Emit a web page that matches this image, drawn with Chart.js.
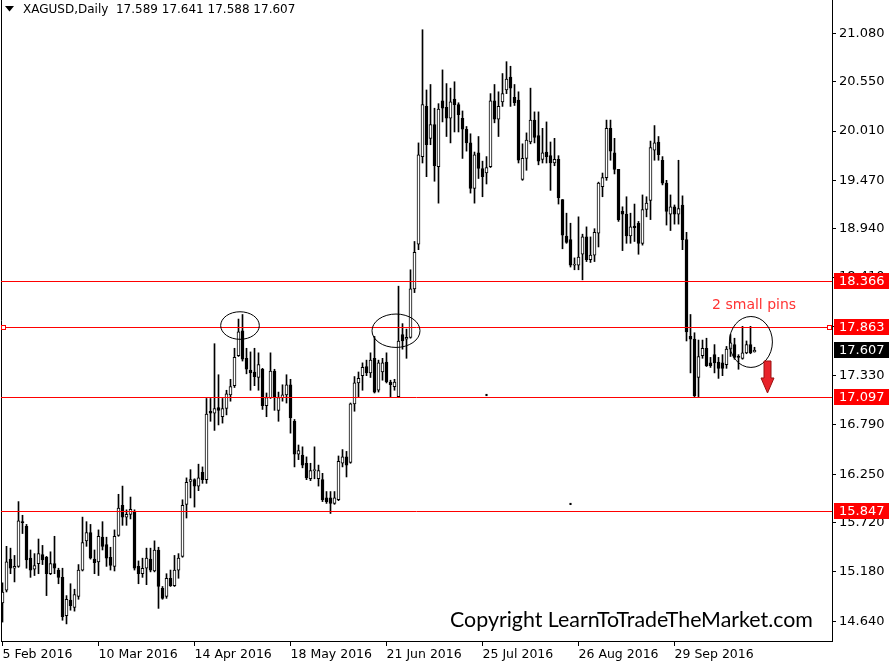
<!DOCTYPE html>
<html><head><meta charset="utf-8">
<script src="https://cdn.jsdelivr.net/npm/chart.js@4/dist/chart.umd.min.js"></script>
<style>html,body{margin:0;padding:0;background:#fff;}canvas{display:block;}</style>
</head><body>
<canvas id="c" width="894" height="666"></canvas>
<script>
const symbol = 'XAGUSD';
const period = 'Daily';
const open = [14.84,14.98,15.32,15.22,15.24,15.73,15.68,15.33,15.21,15.27,15.37,15.34,15.16,15.27,15.20,15.12,14.70,14.87,14.79,14.91,
15.20,15.52,15.61,15.32,15.29,15.56,15.48,15.34,15.24,15.58,15.91,15.78,15.81,15.84,15.24,15.16,15.22,15.32,15.19,15.42,
15.00,14.91,15.11,15.03,15.20,15.35,15.92,16.17,16.19,16.12,16.27,16.19,16.94,16.92,16.98,16.88,16.97,17.12,17.22,17.55,
17.82,17.52,17.39,17.37,17.31,17.40,17.00,17.09,17.38,16.95,17.09,17.12,17.23,16.83,16.47,16.46,16.37,16.20,16.29,16.20,
16.19,15.99,15.99,15.93,15.97,16.37,16.44,16.38,17.02,17.25,17.33,17.43,17.36,17.52,17.17,17.37,17.48,17.26,17.21,17.10,
17.78,17.73,17.75,18.28,18.77,19.73,20.28,19.93,20.08,19.62,20.34,20.27,20.15,20.36,20.30,20.15,20.03,19.88,19.38,19.77,
19.60,19.55,19.62,20.34,20.14,20.33,20.46,20.60,20.38,20.35,19.48,19.71,19.89,20.13,19.96,19.70,19.78,19.74,19.66,19.70,
19.26,18.86,18.82,18.54,18.54,18.66,18.85,18.60,18.65,18.89,19.40,19.50,20.04,19.77,19.59,19.13,19.10,18.86,18.97,19.00,
18.78,19.15,19.25,19.80,19.89,19.69,19.44,19.10,19.18,19.10,19.20,18.82,17.76,17.73,17.31,17.55,17.63,17.47,17.56,17.48,
17.47,17.45,17.62,17.67,17.54,17.52,17.58,17.67,17.589];
const high = [15.06,15.46,15.44,15.36,15.95,15.80,15.70,15.42,15.38,15.54,15.47,15.35,15.40,15.57,15.22,15.22,14.92,15.05,14.99,15.26,
15.78,15.73,15.70,15.42,15.64,15.73,15.56,15.45,15.64,16.03,16.12,15.86,16.00,15.86,15.30,15.33,15.44,15.44,15.52,15.45,
15.02,15.16,15.20,15.36,15.38,15.97,16.21,16.30,16.20,16.36,16.33,17.08,17.08,17.68,17.34,17.08,17.17,17.29,17.63,17.95,
18.00,17.63,17.59,17.63,17.58,17.41,17.14,17.58,17.40,17.15,17.23,17.34,17.29,16.85,16.57,16.55,16.44,16.37,16.55,16.35,
16.26,16.06,16.06,16.06,16.45,16.52,16.50,17.03,17.32,17.37,17.47,17.50,17.58,17.76,17.50,17.52,17.58,17.28,17.29,18.31,
17.90,17.84,18.49,18.80,19.88,21.12,20.46,20.52,20.26,20.31,20.68,20.53,20.48,20.55,20.32,20.23,20.06,19.98,19.78,19.95,
19.68,19.73,20.42,20.52,20.44,20.64,20.77,20.72,20.52,20.44,19.87,19.99,20.48,20.22,20.22,20.04,20.11,19.89,19.93,19.74,
19.26,19.11,19.00,18.62,19.07,18.88,18.96,18.85,18.94,19.45,19.55,20.13,20.13,19.93,19.59,19.18,19.29,19.11,19.21,19.02,
19.31,19.29,19.90,20.07,19.95,19.73,19.47,19.31,19.20,19.69,19.30,18.90,18.00,17.80,17.72,17.72,17.74,17.53,17.67,17.53,
17.56,17.65,17.78,17.74,17.56,17.87,17.71,17.87,17.641];
const low = [14.63,14.96,15.16,15.07,15.23,15.60,15.22,15.12,15.14,15.16,15.26,14.92,15.15,15.16,15.05,14.65,14.61,14.76,14.75,14.88,
15.19,15.46,15.32,15.16,15.14,15.42,15.24,15.20,15.19,15.57,15.69,15.69,15.76,15.20,15.05,15.12,15.04,15.18,15.18,14.78,
14.88,14.89,15.02,15.02,15.11,15.34,15.77,15.99,15.89,16.07,16.15,16.15,16.83,16.73,16.79,16.81,16.90,17.05,17.20,17.54,
17.49,17.35,17.17,17.22,17.17,16.96,16.88,17.08,16.95,16.83,17.05,17.03,16.70,16.33,16.41,16.32,16.19,16.18,16.20,16.12,
15.95,15.93,15.82,15.92,15.96,16.33,16.22,16.37,16.94,17.10,17.17,17.33,17.31,17.14,17.15,17.28,17.25,17.10,17.17,17.10,
17.62,17.52,17.74,18.24,18.71,19.66,19.51,19.86,19.46,19.22,20.11,19.95,19.88,20.00,20.00,19.71,19.79,19.33,19.22,19.49,
19.29,19.43,19.61,20.10,19.95,20.28,20.42,20.28,20.29,19.66,19.47,19.58,19.87,19.88,19.64,19.66,19.66,19.36,19.63,19.21,
18.72,18.78,18.52,18.49,18.49,18.38,18.58,18.57,18.58,18.74,19.29,19.47,19.69,19.54,19.02,18.70,18.78,18.78,18.80,18.66,
18.76,19.07,19.04,19.69,19.69,19.42,18.98,18.92,18.99,18.99,18.71,17.71,17.36,17.10,17.10,17.52,17.43,17.42,17.36,17.30,
17.33,17.41,17.54,17.51,17.40,17.51,17.57,17.57,17.588];
const close = [14.96,15.29,15.22,15.24,15.74,15.72,15.31,15.20,15.25,15.38,15.31,15.16,15.27,15.22,15.12,14.69,14.88,14.81,14.93,15.20,
15.50,15.61,15.33,15.28,15.57,15.46,15.33,15.25,15.57,15.88,15.78,15.81,15.865,15.22,15.16,15.22,15.33,15.20,15.42,15.02,
14.89,15.11,15.03,15.20,15.33,15.91,16.16,16.19,16.12,16.21,16.19,16.91,16.92,16.97,16.95,16.97,17.13,17.21,17.53,17.81,
17.51,17.40,17.36,17.32,17.45,17.00,17.09,17.38,17.09,17.09,17.12,17.23,16.87,16.47,16.51,16.35,16.21,16.29,16.30,16.29,
15.97,15.95,15.93,15.99,16.39,16.44,16.35,17.02,17.25,17.30,17.42,17.36,17.50,17.15,17.47,17.47,17.26,17.23,17.26,17.71,
17.71,17.75,18.28,18.68,19.75,20.30,19.86,20.08,19.63,20.25,20.26,20.15,20.33,20.30,20.19,20.03,19.88,19.38,19.75,19.60,
19.51,19.61,20.34,20.14,20.28,20.42,20.58,20.48,20.32,19.69,19.71,19.91,20.13,19.94,19.68,19.77,19.73,19.66,19.70,19.28,
18.87,18.79,18.54,18.55,18.63,18.85,18.60,18.65,18.90,19.44,19.50,20.04,19.79,19.59,19.04,19.10,18.86,18.96,18.95,18.78,
19.15,19.22,19.83,19.88,19.75,19.44,19.13,19.18,19.10,19.16,18.82,17.81,17.73,17.11,17.54,17.63,17.44,17.44,17.47,17.41,
17.41,17.62,17.69,17.53,17.53,17.58,17.67,17.58,17.607];
const dateTickIndex = [0,24,48,72,96,120,144,168];
const dateTickLabels = ['5 Feb 2016','10 Mar 2016','14 Apr 2016','18 May 2016','21 Jun 2016','25 Jul 2016','26 Aug 2016','29 Sep 2016'];
const priceTicks = [14.640,15.180,15.720,16.250,16.790,17.330,17.870,18.410,18.940,19.470,20.010,20.550,21.080];
const levelPrices = [18.366,17.863,17.097,15.847];
const selectedLevel = 17.863;
const dotIndex = [121,142];
const dotPrice = [17.118,15.924];
const noteText = '2 small pins';
const copyrightText = 'Copyright LearnToTradeTheMarket.com';

const bodies = open.map((o,i)=>({x:i, y:[o, close[i]]}));
const wicks = open.map((o,i)=>({x:i, y:[low[i], high[i]]}));
const dots = dotIndex.map((v,i)=>({x:v, y:dotPrice[i]}));

// annotation geometry (data coordinates)
const ellipses = [
  {i:59.375, p:17.879, rx:4.83, ry:0.151},
  {i:98.375, p:17.822, rx:6.0, ry:0.183},
  {i:187.1, p:17.699, rx:5.375, ry:0.279}
];
const noteAnchor = {i:177.4, p:18.060};
const arrowAnchor = {i:191.25, top:17.4905, tip:17.140};

const RED = '#ff0000';
const overlay = {
  id:'overlay',
  afterDraw(chart){
    const {ctx, chartArea:a, scales:{x, y}} = chart;
    ctx.save();
    ctx.strokeStyle = '#000'; ctx.lineWidth = 1;
    ctx.beginPath(); ctx.moveTo(a.left+0.5, a.top); ctx.lineTo(a.left+0.5, a.bottom); ctx.stroke();
    ctx.strokeStyle = RED;
    levelPrices.forEach(p=>{
      const py = Math.round(y.getPixelForValue(p))+0.5;
      ctx.beginPath(); ctx.moveTo(a.left, py); ctx.lineTo(a.right, py); ctx.stroke();
    });
    const sy = Math.round(y.getPixelForValue(selectedLevel));
    ctx.fillStyle='#fff';
    [a.left+0.5, a.right-4.5].forEach(sx=>{ ctx.fillRect(sx, sy-2, 4, 4); ctx.strokeRect(sx, sy-2+0.5, 4, 4); });
    ctx.strokeStyle = '#000';
    ellipses.forEach(e=>{
      const cx = x.getPixelForValue(e.i), cy = y.getPixelForValue(e.p);
      const rx = x.getPixelForValue(e.i+e.rx)-cx, ry = cy - y.getPixelForValue(e.p+e.ry);
      ctx.beginPath(); ctx.ellipse(cx, cy, rx, ry, 0, 0, Math.PI*2); ctx.stroke();
    });
    ctx.fillStyle = '#ff3333';
    ctx.font = '14px "DejaVu Sans"';
    ctx.textBaseline = 'alphabetic'; ctx.textAlign='left';
    ctx.fillText(noteText, x.getPixelForValue(noteAnchor.i), y.getPixelForValue(noteAnchor.p));
    const ax = x.getPixelForValue(arrowAnchor.i);
    const at = y.getPixelForValue(arrowAnchor.top), ab = y.getPixelForValue(arrowAnchor.tip);
    const hs = ab - 15;
    ctx.beginPath();
    ctx.moveTo(ax-3.5, at); ctx.lineTo(ax+3.5, at); ctx.lineTo(ax+3.5, hs); ctx.lineTo(ax+6.5, hs);
    ctx.lineTo(ax, ab); ctx.lineTo(ax-6.5, hs); ctx.lineTo(ax-3.5, hs); ctx.closePath();
    ctx.fillStyle = '#e8222a'; ctx.fill();
    ctx.strokeStyle = '#9a1010'; ctx.stroke();
    ctx.fillStyle = '#000';
    ctx.font = '20px Lato';
    const w = ctx.measureText(copyrightText).width;
    ctx.font = (20*363/w).toFixed(2)+'px Lato';
    ctx.fillText(copyrightText, 450, 627);
    ctx.beginPath(); ctx.moveTo(5,6); ctx.lineTo(14,6); ctx.lineTo(9.5,11.5); ctx.closePath(); ctx.fill();
    ctx.font = '12px "DejaVu Sans"'; ctx.textBaseline = 'middle';
    const n = open.length-1;
    const f = v=>v.toFixed(3);
    ctx.fillText(symbol+','+period+'  '+f(open[n])+' '+f(high[n])+' '+f(low[n])+' '+f(close[n]), 23, 10);
    ctx.font = '13px "DejaVu Sans"';
    const box = (p, col)=>{
      const py = Math.round(y.getPixelForValue(p));
      ctx.fillStyle = col; ctx.fillRect(834, py-8, 55, 16);
      ctx.fillStyle = '#fff'; ctx.fillText(f(p), 839, py+0.5);
    };
    levelPrices.forEach(p=>box(p, RED));
    box(close[n], '#000');
    ctx.restore();
  }
};

const yMax = 17.863 + 327/91.27;
const yMin = 17.863 - 314/91.27;
const xMin = -0.375;

new Chart(document.getElementById('c'), {
  type:'bar',
  data:{datasets:[
    {label:'body', data:bodies, grouped:false, barThickness:3, borderWidth:1, borderColor:'#000', borderSkipped:false, minBarLength:1,
      backgroundColor: c => close[c.dataIndex] >= open[c.dataIndex] ? '#fff' : '#000', order:0},
    {label:'wick', data:wicks, grouped:false, barThickness:1, borderWidth:0, backgroundColor:'#000', order:1},
    {type:'scatter', label:'dots', data:dots, pointStyle:'rect', radius:1.5, hoverRadius:0, backgroundColor:'#000', borderWidth:0, order:-1}
  ]},
  options:{
    responsive:false, animation:false, devicePixelRatio:1,
    layout:{autoPadding:false, padding:{left:1, top:0, right:0, bottom:0}},
    plugins:{legend:{display:false}, tooltip:{enabled:false}},
    scales:{
      x:{type:'linear', position:'bottom', min:xMin, max:xMin+831/4, offset:false, bounds:'data',
        afterBuildTicks: s=>{ s.ticks = dateTickIndex.map(v=>({value:v})); },
        afterFit: s=>{ s.height = 25; s.paddingLeft = 0; s.paddingRight = 0; },
        ticks:{autoSkip:false, maxRotation:0, minRotation:0, align:'start', padding:1, color:'#000',
          font:{family:'DejaVu Sans', size:12.5}, callback: v => dateTickLabels[dateTickIndex.indexOf(v)]},
        grid:{offset:false, drawOnChartArea:false, drawTicks:true, tickLength:5, color:'#000'},
        border:{display:true, color:'#000'}
      },
      y:{type:'linear', position:'right', min:yMin, max:yMax, bounds:'data', beginAtZero:false,
        afterBuildTicks: s=>{ s.ticks = priceTicks.map(v=>({value:v})); },
        afterFit: s=>{ s.width = 62; s.paddingTop = 0; s.paddingBottom = 0; },
        ticks:{padding:3, color:'#000', font:{family:'DejaVu Sans', size:13}, callback: v => v.toFixed(3)},
        grid:{drawOnChartArea:false, drawTicks:true, tickLength:4, color:'#000'},
        border:{display:true, color:'#000'}
      }
    }
  },
  plugins:[overlay]
});
</script>
</body></html>
